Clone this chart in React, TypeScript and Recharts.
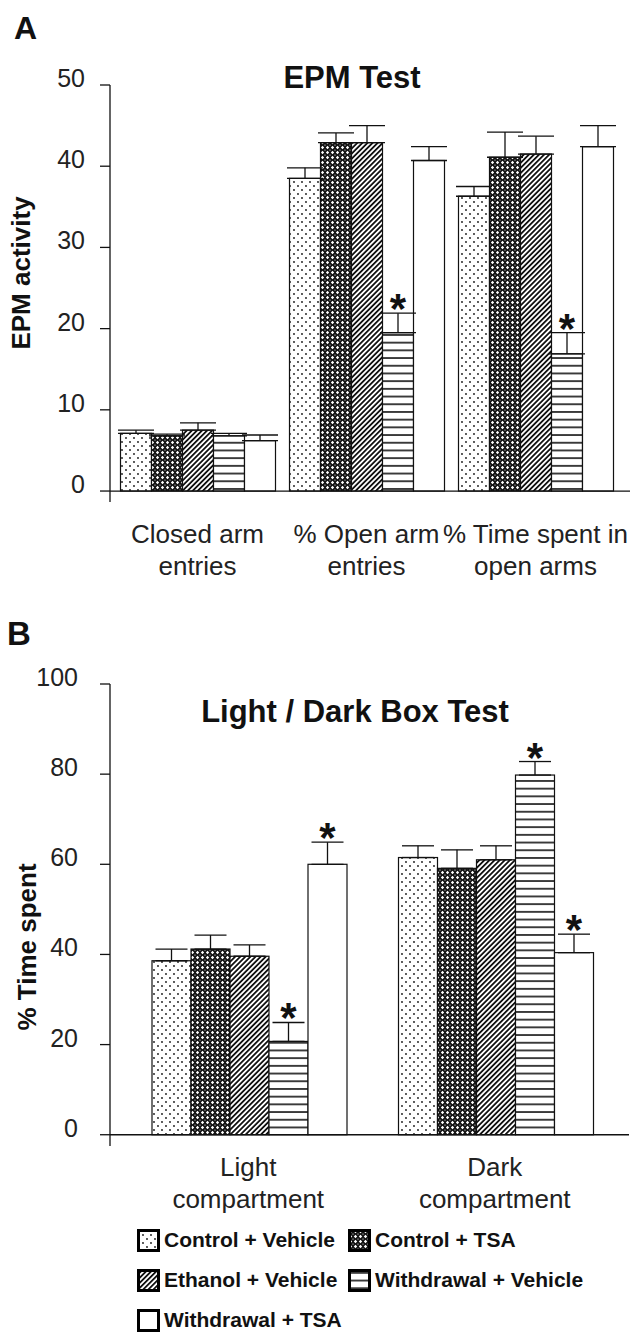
import React from "react";
import { BarChart, Bar, XAxis, YAxis, ErrorBar, ReferenceLine } from "recharts";

const FONT = "'Liberation Sans', Arial, sans-serif";

const seriesNames = [
  "Control + Vehicle",
  "Control + TSA",
  "Ethanol + Vehicle",
  "Withdrawal + Vehicle",
  "Withdrawal + TSA",
];
const seriesKeys = ["cv", "ct", "ev", "wv", "wt"];
const seriesFills = ["url(#patDots)", "url(#patCross)", "url(#patDiag)", "url(#patHoriz)", "#ffffff"];

// Panel A - EPM test
const epmCategories = ["Closed arm entries", "% Open arm entries", "% Time spent in open arms"];
const epmLabelLines = [
  ["Closed arm", "entries"],
  ["% Open arm", "entries"],
  ["% Time spent in", "open arms"],
];
const epmTicks = [0, 10, 20, 30, 40, 50];
const epmMeans = [
  [7.1, 38.5, 36.3],
  [6.8, 42.9, 41.1],
  [7.5, 42.9, 41.5],
  [6.8, 19.5, 16.9],
  [6.2, 40.7, 42.4],
];
const epmErrors = [
  [0.4, 1.3, 1.2],
  [0.2, 1.2, 3.1],
  [0.9, 2.1, 2.2],
  [0.3, 2.4, 2.6],
  [0.7, 1.7, 2.6],
];
const epmSignificant = [
  [false, false, false],
  [false, false, false],
  [false, false, false],
  [false, true, true],
  [false, false, false],
];

// Panel B - light / dark box
const ldbCategories = ["Light compartment", "Dark compartment"];
const ldbLabelLines = [
  ["Light", "compartment"],
  ["Dark", "compartment"],
];
const ldbTicks = [0, 20, 40, 60, 80, 100];
const ldbMeans = [
  [38.6, 61.5],
  [41.2, 59.1],
  [39.6, 61.0],
  [20.7, 79.8],
  [60.0, 40.4],
];
const ldbErrors = [
  [2.6, 2.6],
  [3.1, 4.1],
  [2.5, 3.1],
  [4.2, 3.0],
  [4.9, 4.1],
];
const ldbSignificant = [
  [false, false],
  [false, false],
  [false, false],
  [true, true],
  [true, true],
];

function buildRows(categories: string[], means: number[][], errors: number[][], sig: boolean[][]) {
  return categories.map((category, i) => {
    const row: any = { category };
    seriesKeys.forEach((k, s) => {
      row[k] = means[s][i];
      row[k + "Err"] = [0, errors[s][i]];
      row[k + "Sig"] = sig[s][i];
    });
    return row;
  });
}

const epmData = buildRows(epmCategories, epmMeans, epmErrors, epmSignificant);
const ldbData = buildRows(ldbCategories, ldbMeans, ldbErrors, ldbSignificant);

// bar with its pattern and, when significant, a star above the error bar
const makeShape = (key: string) => (props: any) => {
  const { x, y, width, height, fill, payload } = props;
  const v = payload[key];
  const err = payload[key + "Err"][1];
  const ppu = v ? height / v : 0;
  const errTop = y - err * ppu;
  return (
    <g>
      <rect x={x} y={y} width={width} height={height} fill={fill} stroke="#111" strokeWidth={1.2} />
      {payload[key + "Sig"] && (
        <text
          x={x + width / 2}
          y={errTop + 10}
          textAnchor="middle"
          fontSize={42}
          fontWeight="bold"
          fontFamily={FONT}
          fill="#111"
        >
          *
        </text>
      )}
    </g>
  );
};

const YTick = (props: any) => {
  const { x, y, payload } = props;
  return (
    <text x={x} y={y} dy={2} textAnchor="end" fontSize={25} fontFamily={FONT} fill="#222">
      {payload.value}
    </text>
  );
};

const makeXTick = (categories: string[], lines: string[][], d1: number, d2: number) => (props: any) => {
  const { x, y, payload } = props;
  const idx = categories.indexOf(payload.value);
  const parts = lines[idx] || [payload.value];
  return (
    <text x={x} y={y} textAnchor="middle" fontSize={26} fontFamily={FONT} fill="#222">
      <tspan x={x} dy={d1}>{parts[0]}</tspan>
      <tspan x={x} dy={d2 - d1}>{parts[1]}</tspan>
    </text>
  );
};

const yLabel = (text: string, x: number, y: number) => () => (
  <text
    x={x}
    y={y}
    transform={`rotate(-90, ${x}, ${y})`}
    textAnchor="middle"
    fontSize={26}
    fontWeight="bold"
    fontFamily={FONT}
    fill="#111"
  >
    {text}
  </text>
);

function Patterns() {
  return (
    <svg width={0} height={0} style={{ position: "absolute" }}>
      <defs>
        <pattern id="patDots" patternUnits="userSpaceOnUse" width={8} height={8}>
          <rect width={8} height={8} fill="#fff" />
          <circle cx={2} cy={2} r={0.9} fill="#111" />
          <circle cx={6} cy={6} r={0.9} fill="#111" />
        </pattern>
        <pattern id="patCross" patternUnits="userSpaceOnUse" width={5} height={5}>
          <rect width={5} height={5} fill="#111" />
          <path d="M2.5 0.8 L4.2 2.5 L2.5 4.2 L0.8 2.5 Z" fill="#fff" />
          <circle cx={0} cy={0} r={0.6} fill="#fff" />
          <circle cx={5} cy={0} r={0.6} fill="#fff" />
          <circle cx={0} cy={5} r={0.6} fill="#fff" />
          <circle cx={5} cy={5} r={0.6} fill="#fff" />
        </pattern>
        <pattern id="patDiag" patternUnits="userSpaceOnUse" width={3.6} height={3.6} patternTransform="rotate(45)">
          <rect width={3.6} height={3.6} fill="#fff" />
          <line x1={0.9} y1={0} x2={0.9} y2={3.6} stroke="#111" strokeWidth={1.8} />
        </pattern>
        <pattern id="patHoriz" patternUnits="userSpaceOnUse" width={8} height={7.7}>
          <rect width={8} height={7.7} fill="#fff" />
          <line x1={0} y1={3.85} x2={8} y2={3.85} stroke="#111" strokeWidth={1.6} />
        </pattern>
      </defs>
    </svg>
  );
}

function Series(errWidth: number) {
  return seriesKeys.map((k, s) => (
    <Bar
      key={k}
      dataKey={k}
      name={seriesNames[s]}
      fill={seriesFills[s]}
      shape={makeShape(k)}
      isAnimationActive={false}
    >
      <ErrorBar dataKey={k + "Err"} width={errWidth} stroke="#111" strokeWidth={1.3} direction="y" />
    </Bar>
  ));
}

export default function App() {
  return (
    <div
      style={{
        position: "absolute",
        left: 0,
        top: 0,
        width: 640,
        height: 1335,
        background: "#fff",
        fontFamily: FONT,
        overflow: "hidden",
      }}
    >
      <Patterns />
      <svg width={640} height={1335} style={{ position: "absolute", left: 0, top: 0 }}>
        <text x={14} y={39} fontSize={32} fontWeight="bold" fontFamily={FONT} fill="#111">A</text>
        <text x={352} y={88} textAnchor="middle" fontSize={31} fontWeight="bold" fontFamily={FONT} fill="#111">
          EPM Test
        </text>
        <text x={7} y={645} fontSize={33} fontWeight="bold" fontFamily={FONT} fill="#111">B</text>
        <text x={355} y={722} textAnchor="middle" fontSize={31} fontWeight="bold" fontFamily={FONT} fill="#111">
          Light / Dark Box Test
        </text>
      </svg>

      <div style={{ position: "absolute", left: 0, top: 0 }}>
        <BarChart
          width={640}
          height={610}
          data={epmData}
          margin={{ top: 85, right: 10, left: 0, bottom: 0 }}
          barCategoryGap={7.5}
          barGap={0}
        >
          <XAxis
            dataKey="category"
            height={108}
            axisLine={false}
            tickLine={false}
            tickSize={0}
            tickMargin={0}
            interval={0}
            padding={{ left: 3, right: 10 }}
            tick={makeXTick(epmCategories, epmLabelLines, 41, 73)}
          />
          <YAxis
            width={110}
            domain={[-1.35, 50]}
            ticks={epmTicks}
            allowDataOverflow
            tickSize={10}
            tickMargin={15}
            axisLine={{ stroke: "#111", strokeWidth: 1.3 }}
            tickLine={{ stroke: "#111", strokeWidth: 1.3 }}
            tick={<YTick />}
            label={{ content: yLabel("EPM activity", 30, 273) }}
          />
          <ReferenceLine y={0} stroke="#111" strokeWidth={1.3} />
          {Series(18)}
        </BarChart>
      </div>

      <div style={{ position: "absolute", left: 0, top: 600 }}>
        <BarChart
          width={640}
          height={620}
          data={ldbData}
          margin={{ top: 84, right: 11, left: 0, bottom: 0 }}
          barCategoryGap={27}
          barGap={0}
        >
          <XAxis
            dataKey="category"
            height={74}
            axisLine={false}
            tickLine={false}
            tickSize={0}
            tickMargin={0}
            interval={0}
            padding={{ left: 15, right: 11 }}
            tick={makeXTick(ldbCategories, ldbLabelLines, 30, 62)}
          />
          <YAxis
            width={110}
            domain={[-2.5, 100]}
            ticks={ldbTicks}
            allowDataOverflow
            tickSize={10}
            tickMargin={22}
            axisLine={{ stroke: "#111", strokeWidth: 1.3 }}
            tickLine={{ stroke: "#111", strokeWidth: 1.3 }}
            tick={<YTick />}
            label={{ content: yLabel("% Time spent", 36, 347) }}
          />
          <ReferenceLine y={0} stroke="#111" strokeWidth={1.3} />
          {Series(16)}
        </BarChart>
      </div>

      <div
        style={{
          position: "absolute",
          left: 137,
          top: 1228,
          display: "grid",
          gridTemplateColumns: "211px auto",
          rowGap: 16,
        }}
      >
        {seriesNames.map((name, s) => (
          <div key={name} style={{ display: "flex", alignItems: "center", height: 24 }}>
            <svg width={23} height={23} style={{ marginRight: 4 }}>
              <rect x={1.5} y={1.5} width={20} height={20} fill={seriesFills[s]} stroke="#000" strokeWidth={3} />
            </svg>
            <span style={{ fontSize: 21, fontWeight: "bold", color: "#111", whiteSpace: "nowrap" }}>{name}</span>
          </div>
        ))}
      </div>
    </div>
  );
}
